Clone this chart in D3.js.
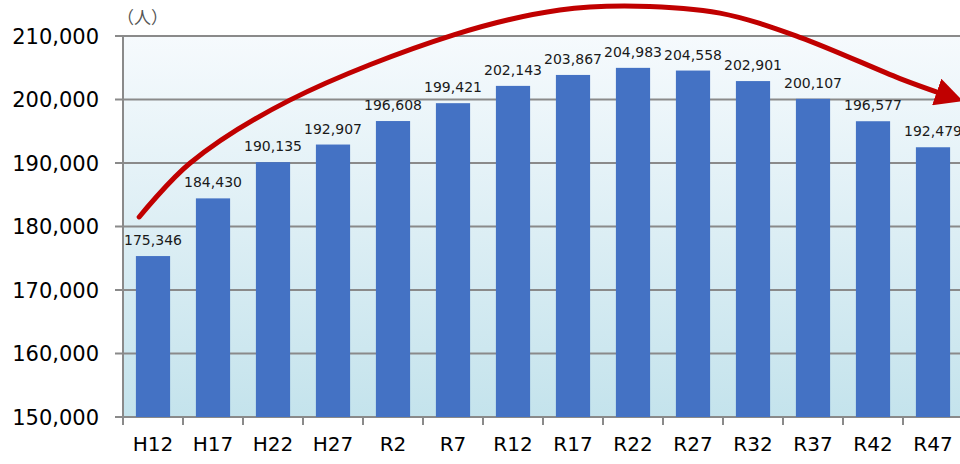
<!DOCTYPE html>
<html>
<head>
<meta charset="utf-8">
<script src="https://cdn.jsdelivr.net/npm/d3@7/dist/d3.min.js"></script>
<style>
  html, body { margin: 0; padding: 0; background: #fff; overflow: hidden; }
  svg { display: block; }
</style>
</head>
<body>
<div id="chart"></div>
<script>
// Data
const categories = ['H12', 'H17', 'H22', 'H27', 'R2', 'R7', 'R12', 'R17', 'R22', 'R27', 'R32', 'R37', 'R42', 'R47'];
const population = [175346, 184430, 190135, 192907, 196608, 199421, 202143, 203867, 204983, 204558, 202901, 200107, 196577, 192479];
const yTicks = [150000, 160000, 170000, 180000, 190000, 200000, 210000];
// trend arrow, as [category position (in bands), value]
const trendPoints = [
    [0.27, 181500], [1.12, 190000], [2.78, 199900], [5.5, 210150], [7.28, 214100],
    [8.57, 214700], [9.95, 213600], [11.28, 209800], [12.95, 203300], [13.65, 200900]
];

const width = 960, height = 464;
const margin = { top: 36, right: -3, bottom: 47, left: 123 };

const svg = d3.select('#chart').append('svg')
    .attr('width', width)
    .attr('height', height);

const x = d3.scaleBand()
    .domain(categories)
    .range([margin.left, width - margin.right])
    .paddingInner(0.43)
    .paddingOuter(0.215);

const y = d3.scaleLinear()
    .domain([150000, 210000])
    .range([height - margin.bottom, margin.top]);

// position along x in "bands" (0 = left edge)
const xPos = d3.scaleLinear()
    .domain([0, categories.length])
    .range([margin.left, width - margin.right]);

// Background gradient
const defs = svg.append('defs');
const grad = defs.append('linearGradient')
    .attr('id', 'bg').attr('x1', 0).attr('y1', 0).attr('x2', 0).attr('y2', 1);
grad.append('stop').attr('offset', '0%').attr('stop-color', '#f6fafd');
grad.append('stop').attr('offset', '100%').attr('stop-color', '#c4e3ec');

defs.append('marker')
    .attr('id', 'arrow')
    .attr('viewBox', '0 0 10 10')
    .attr('refX', 2).attr('refY', 5)
    .attr('markerWidth', 5.6).attr('markerHeight', 5.6)
    .attr('markerUnits', 'strokeWidth')
    .attr('orient', 'auto')
    .append('path')
    .attr('d', 'M0,0 L10,5 L0,10 z')
    .attr('fill', '#c00000');

svg.append('rect')
    .attr('x', margin.left)
    .attr('y', margin.top)
    .attr('width', width - margin.right - margin.left)
    .attr('height', y(150000) - y(210000))
    .attr('fill', 'url(#bg)');

// Gridlines
svg.append('g')
    .selectAll('line')
    .data(yTicks)
    .join('line')
    .attr('x1', margin.left - 8)
    .attr('x2', width - margin.right)
    .attr('y1', d => y(d))
    .attr('y2', d => y(d))
    .attr('stroke', '#8a8a8a')
    .attr('stroke-width', 2);

// Y axis line
svg.append('line')
    .attr('x1', margin.left).attr('x2', margin.left)
    .attr('y1', y(210000)).attr('y2', y(150000) + 8)
    .attr('stroke', '#8a8a8a').attr('stroke-width', 2);

// X ticks at band boundaries
svg.append('g')
    .selectAll('line')
    .data(d3.range(1, categories.length))
    .join('line')
    .attr('x1', d => xPos(d)).attr('x2', d => xPos(d))
    .attr('y1', y(150000)).attr('y2', y(150000) + 8)
    .attr('stroke', '#8a8a8a').attr('stroke-width', 2);

// Y labels
svg.append('g')
    .selectAll('text')
    .data(yTicks)
    .join('text')
    .attr('x', 99)
    .attr('y', d => y(d))
    .attr('dy', '0.36em')
    .attr('text-anchor', 'end')
    .attr('font-family', '"DejaVu Sans", sans-serif')
    .attr('font-size', 21)
    .attr('fill', '#000')
    .text(d => d3.format(',')(d));

// unit label
svg.append('text')
    .attr('x', 117).attr('y', 24)
    .attr('font-family', '"Noto Sans CJK JP", sans-serif')
    .attr('font-size', 17)
    .attr('fill', '#555')
    .text('（人）');

// Bars
svg.append('g')
    .selectAll('rect')
    .data(population)
    .join('rect')
    .attr('x', (d, i) => x(categories[i]))
    .attr('y', d => y(d))
    .attr('width', x.bandwidth())
    .attr('height', d => y(150000) - y(d))
    .attr('fill', '#4472c4');

// Value labels
svg.append('g')
    .selectAll('text')
    .data(population)
    .join('text')
    .attr('x', (d, i) => x(categories[i]) + x.bandwidth() / 2)
    .attr('y', d => y(d) - 11)
    .attr('text-anchor', 'middle')
    .attr('font-family', '"DejaVu Sans", sans-serif')
    .attr('font-size', 14)
    .attr('fill', '#1a1a1a')
    .text(d => d3.format(',')(d));

// X labels
svg.append('g')
    .selectAll('text')
    .data(categories)
    .join('text')
    .attr('x', d => x(d) + x.bandwidth() / 2)
    .attr('y', 451)
    .attr('text-anchor', 'middle')
    .attr('font-family', '"DejaVu Sans", sans-serif')
    .attr('font-size', 20)
    .attr('fill', '#000')
    .text(d => d);

// Trend arrow
const line = d3.line()
    .x(d => xPos(d[0]))
    .y(d => y(d[1]))
    .curve(d3.curveCatmullRom.alpha(0.5));

svg.append('path')
    .datum(trendPoints)
    .attr('d', line)
    .attr('fill', 'none')
    .attr('stroke', '#c00000')
    .attr('stroke-width', 5)
    .attr('stroke-linecap', 'round')
    .attr('marker-end', 'url(#arrow)');
</script>
</body>
</html>
